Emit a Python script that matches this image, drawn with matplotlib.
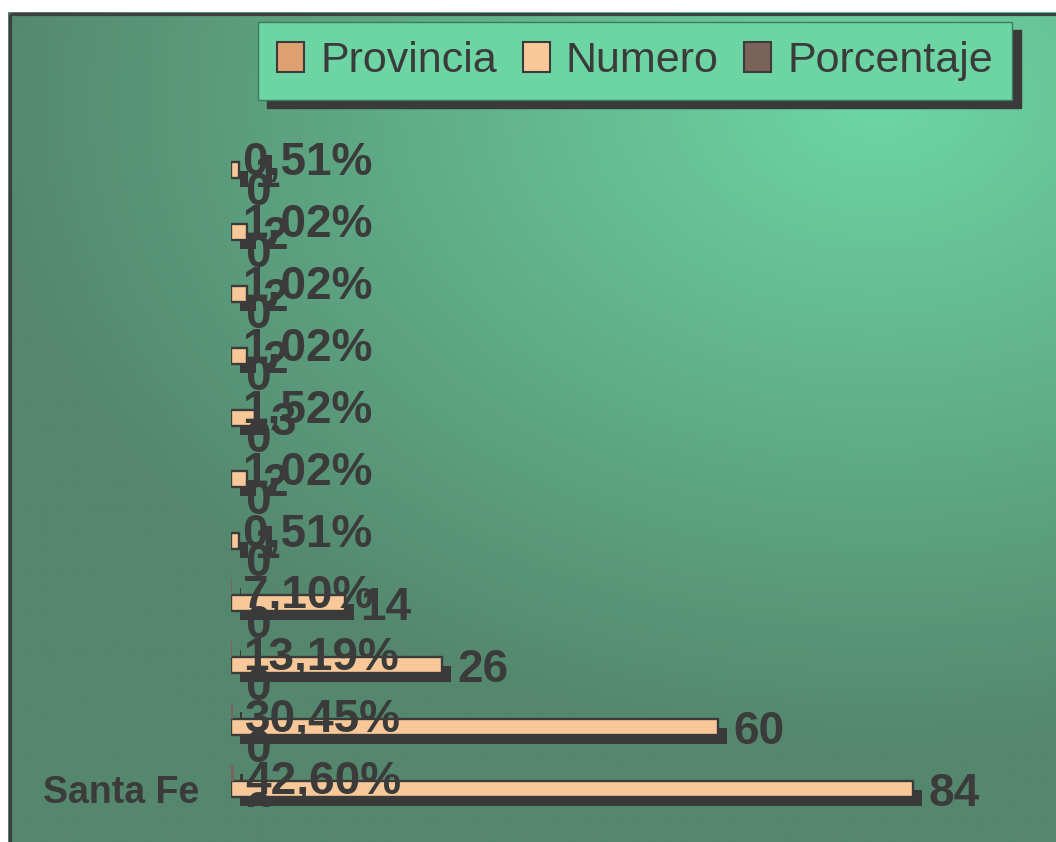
import numpy as np
import matplotlib
matplotlib.use("Agg")
import matplotlib.pyplot as plt
from matplotlib.patches import Patch, Rectangle
from matplotlib.transforms import ScaledTranslation

# ---- data (listed top to bottom as seen in the chart) ----
categories = ["", "", "", "", "", "", "", "", "", "", "Santa Fe"]
provincia = [0, 0, 0, 0, 0, 0, 0, 0, 0, 0, 0]
numero = [1, 2, 2, 2, 3, 2, 1, 14, 26, 60, 84]
porcentaje = [0.51, 1.02, 1.02, 1.02, 1.52, 1.02, 0.51, 7.10, 13.19, 30.45, 42.60]
series_names = ["Provincia", "Numero", "Porcentaje"]

# ---- style ----
W, H, DPI = 1056, 842, 100
TXT = "#3b3b3b"
C_PROV = "#dea070"
C_NUM = "#f9c898"
C_PORC = "#7a6358"
LIGHT = np.array([109, 214, 164]) / 255
DARK = np.array([84, 135, 110]) / 255

plt.rcParams["font.family"] = ["Liberation Sans", "DejaVu Sans"]
fig = plt.figure(figsize=(W / DPI, H / DPI), dpi=DPI, facecolor="white")

# ---- gradient background with border ----
bg = fig.add_axes([0, 0, 1, 1], zorder=-5)
bg.set_xlim(0, W)
bg.set_ylim(H, 0)
bg.axis("off")
yy, xx = np.mgrid[12:H + 1:2, 8:W + 1:2].astype(float)
d = np.sqrt(((xx - 880) / 900) ** 2 + ((yy - 100) / 650) ** 2)
t = np.clip(1 - d, 0, 1)
img = DARK[None, None, :] + (LIGHT - DARK)[None, None, :] * t[..., None]
bg.imshow(img, extent=(8, W, H, 12), interpolation="bilinear", aspect="auto")
bg.add_patch(Rectangle((9.5, 13.5), W + 20, H + 20, fill=False, ec="#3f3f3f", lw=2.3))

# ---- main axes ----
ax = fig.add_axes([231 / W, (H - 807) / H, (W - 231) / W, (807 - 120) / H])
ax.set_facecolor("none")
n = len(numero)
ypos = np.arange(n)[::-1]
ax.set_xlim(0, (W - 231) / 8.119)
ax.set_ylim(-18 / 61.9, (789 - 120) / 61.9)
h = 16 / 61.9

porc_frac = [p / 100 for p in porcentaje]
shadow_tr = ax.transData + ScaledTranslation(9 / DPI, -9 / DPI, fig.dpi_scale_trans)
for vals, off in ((provincia, -h), (numero, 0.0), (porc_frac, h)):
    ax.barh(ypos + off, vals, height=h, color="#3a3a3a", lw=0,
            transform=shadow_tr, zorder=1)
ax.barh(ypos - h, provincia, height=h, color=C_PROV, lw=0, zorder=2)
ax.barh(ypos, numero, height=h, color=C_NUM, ec="#3b3b3b", lw=1.7, zorder=2)
ax.barh(ypos + h, porc_frac, height=h, color=C_PORC, lw=0, zorder=2)

lab_kw = dict(textcoords="offset points", ha="left", va="center_baseline",
              fontsize=33, fontweight="bold", color=TXT, clip_on=True, zorder=5)
for y, v in zip(ypos, provincia):
    ax.annotate(str(v), xy=(v, y - h), xytext=(10.5, -1.2), **lab_kw)
for y, v in zip(ypos, numero):
    ax.annotate(str(v), xy=(v, y), xytext=(11.0, 0), **lab_kw)
for y, v, p in zip(ypos, porc_frac, porcentaje):
    ax.annotate(f"{p:.2f}%".replace(".", ","), xy=(v, y + h),
                xytext=(8.0, -3.0), **lab_kw)

ax.set_yticks(ypos)
ax.set_yticklabels(categories, fontsize=27, fontweight="bold", color=TXT)
ax.tick_params(axis="y", length=0, pad=23)
ax.set_xticks([])
for s in ax.spines.values():
    s.set_visible(False)

# ---- legend ----
handles = [Patch(facecolor=c, edgecolor="#3b3b3b", linewidth=1.5, label=nm)
           for c, nm in zip((C_PROV, C_NUM, C_PORC), series_names)]
leg = fig.legend(handles=handles, loc="upper left",
                 bbox_to_anchor=(258 / W, 1 - 22 / H), bbox_transform=fig.transFigure,
                 ncol=3, fontsize=31, frameon=True, fancybox=False,
                 shadow={"ox": 6.5, "oy": -6.0, "facecolor": "#3a3a3a",
                         "edgecolor": "#3a3a3a", "alpha": 1},
                 borderaxespad=0, borderpad=0.44, handlelength=0.63,
                 handleheight=0.7, handletextpad=0.37, columnspacing=0.6,
                 facecolor="#6dd5a3", edgecolor="#3e7a5c", framealpha=1)
leg.get_frame().set_linewidth(1.0)
for tx in leg.get_texts():
    tx.set_color(TXT)

fig.savefig("out.png", dpi=DPI, facecolor="white")
